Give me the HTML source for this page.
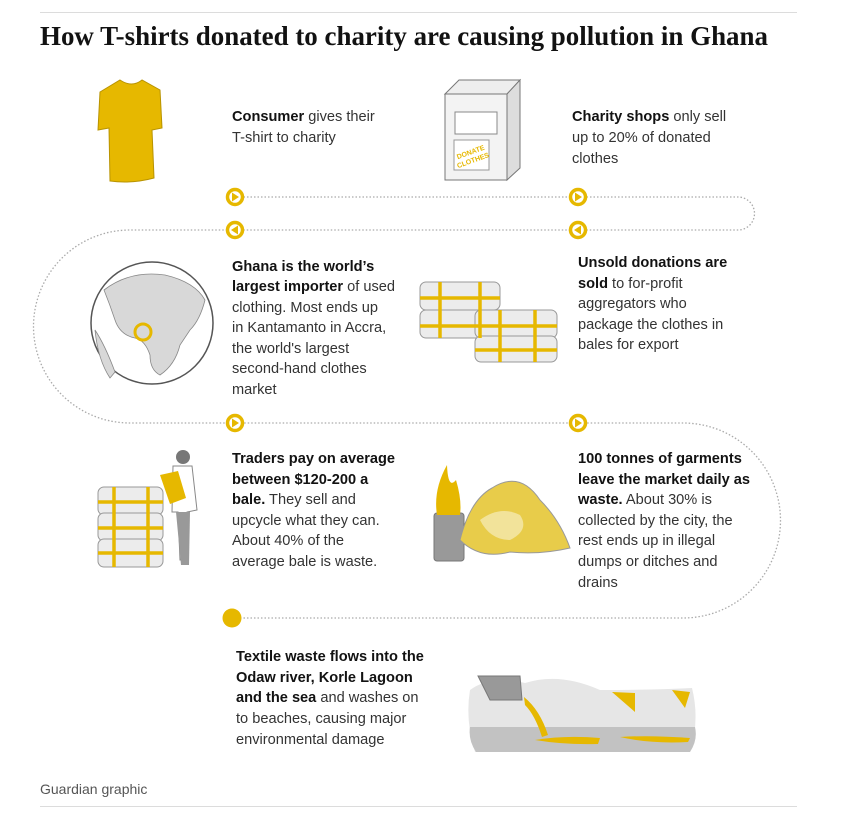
<!DOCTYPE html>
<html><head><meta charset="utf-8"><style>
html,body{margin:0;padding:0;background:#fff}
svg{display:block}
.t{font-family:"Liberation Sans",sans-serif;font-size:14.6px;fill:#333}
.b{font-weight:bold;fill:#121212}
</style></head><body>
<svg width="850" height="824" viewBox="0 0 850 824" xmlns="http://www.w3.org/2000/svg">
<line x1="40" y1="12.5" x2="797" y2="12.5" stroke="#dcdcdc" stroke-width="1"/>
<line x1="40" y1="806.5" x2="797" y2="806.5" stroke="#dcdcdc" stroke-width="1"/>
<text x="40" y="45" font-family="Liberation Serif,serif" font-weight="bold" font-size="27" fill="#121212" textLength="728" lengthAdjust="spacingAndGlyphs">How T-shirts donated to charity are causing pollution in Ghana</text>

<path d="M240 197 H738 A16.5 16.5 0 0 1 738 230 H130 A96.5 96.5 0 0 0 130 423 H683 A97.5 97.5 0 0 1 683 618 H235" fill="none" stroke="#aaa" stroke-width="1.3" stroke-dasharray="1.5 2"/>

<g fill="#fff" stroke="#e6b800" stroke-width="3.5">
<circle cx="235" cy="197" r="7.5"/><circle cx="578" cy="197" r="7.5"/>
<circle cx="235" cy="230" r="7.5"/><circle cx="578" cy="230" r="7.5"/>
<circle cx="235" cy="423" r="7.5"/><circle cx="578" cy="423" r="7.5"/>
</g>
<g fill="#e6b800">
<path d="M232 192.5 L239 197 L232 201.5Z"/><path d="M575 192.5 L582 197 L575 201.5Z"/>
<path d="M238 225.5 L231 230 L238 234.5Z"/><path d="M581 225.5 L574 230 L581 234.5Z"/>
<path d="M232 418.5 L239 423 L232 427.5Z"/><path d="M575 418.5 L582 423 L575 427.5Z"/>
<circle cx="232" cy="618" r="9.5"/>
</g>

<path d="M100 92 L120 80 Q132 88 142 80 L160 90 L162 128 L152 130 L154 178 Q132 184 110 181 L109 128 L98 130 Z" fill="#e6b800" stroke="#b89300" stroke-width="1"/>
<path d="M445 94 L459 80 L520 80 L507 94Z" fill="#eee" stroke="#777"/>
<path d="M507 94 L520 80 L520 168 L507 180Z" fill="#ddd" stroke="#777"/>
<rect x="445" y="94" width="62" height="86" fill="#f3f3f3" stroke="#777"/>
<rect x="455" y="112" width="42" height="22" fill="#fff" stroke="#888"/>
<rect x="454" y="140" width="35" height="30" fill="#fff" stroke="#999"/>
<text x="458" y="155" font-family="Liberation Sans" font-size="7" font-weight="bold" fill="#e6b800" transform="rotate(-20 470 158)">DONATE</text>
<text x="458" y="164" font-family="Liberation Sans" font-size="7" font-weight="bold" fill="#e6b800" transform="rotate(-20 470 166)">CLOTHES</text>

<circle cx="152" cy="323" r="61" fill="#fff" stroke="#555" stroke-width="1.5"/>
<path d="M104 290 Q130 270 165 275 Q195 282 205 300 Q200 320 190 330 L180 345 Q175 365 160 375 Q150 370 150 355 Q145 340 135 338 Q120 335 115 320 Q110 305 104 290Z" fill="#d8d8d8" stroke="#888" stroke-width="0.8"/>
<path d="M95 330 Q105 345 115 372 L110 378 Q98 360 95 330Z" fill="#d8d8d8" stroke="#888" stroke-width="0.8"/>
<circle cx="143" cy="332" r="8" fill="none" stroke="#e6b800" stroke-width="3"/>

<g stroke="#999" stroke-width="1" fill="#ececec">
<rect x="420" y="282" width="80" height="28" rx="6"/>
<rect x="420" y="310" width="80" height="28" rx="6"/>
<rect x="475" y="310" width="82" height="28" rx="6"/>
<rect x="475" y="336" width="82" height="26" rx="6"/>
</g>
<g stroke="#e6b800" stroke-width="3.5" fill="none">
<path d="M420 298 H500 M420 326 H500 M475 326 H557 M475 350 H557 M440 282 V338 M480 282 V338 M500 310 V362 M535 310 V362"/>
</g>

<g stroke="#999" stroke-width="1" fill="#ececec">
<rect x="98" y="487" width="65" height="28" rx="6"/>
<rect x="98" y="513" width="65" height="28" rx="6"/>
<rect x="98" y="539" width="65" height="28" rx="6"/>
</g>
<g stroke="#e6b800" stroke-width="3.5" fill="none"><path d="M98 502 H163 M98 528 H163 M98 553 H163 M114 487 V567 M148 487 V567"/></g>
<circle cx="183" cy="457" r="7" fill="#777"/>
<path d="M173 466 L192 466 L197 510 L187 512 L188 560 L180 560 L178 512 L172 512Z" fill="#fff" stroke="#888"/>
<path d="M176 512 H190 L189 565 H181Z" fill="#999"/>
<path d="M160 475 L178 471 L186 498 L170 504Z" fill="#e6b800"/>

<rect x="434" y="513" width="30" height="48" rx="3" fill="#999" stroke="#777"/>
<path d="M437 515 Q433 490 447 465 Q448 490 456 480 Q462 500 460 515Z" fill="#e6b800"/>
<path d="M460 540 Q470 500 492 488 Q520 470 540 500 Q560 520 570 548 Q540 555 510 552 Q480 560 460 540Z" fill="#e8cc4a" stroke="#999"/>
<path d="M480 520 Q500 505 520 515 Q530 530 510 540 Q490 540 480 520Z" fill="#f2e39a"/>

<path d="M470 690 Q490 675 525 683 Q560 672 600 690 Q650 690 692 688 Q700 720 690 752 L475 752 Q465 720 470 690Z" fill="#e6e6e6"/>
<path d="M470 727 H695 Q698 740 690 752 H476 Q468 740 470 727Z" fill="#c2c2c2"/>
<path d="M478 676 L520 676 L522 700 L490 700Z" fill="#999" stroke="#777"/>
<path d="M524 697 Q540 710 548 735 L542 737 Q535 715 525 705Z" fill="#e6b800"/>
<path d="M535 740 Q565 735 600 738 L598 744 Q565 745 535 740Z" fill="#e6b800"/>
<path d="M620 737 Q650 735 690 738 L688 742 Q650 744 620 737Z" fill="#e6b800"/>
<path d="M612 692 L635 693 L635 712Z M672 690 L690 692 L685 708Z" fill="#e6b800"/>

<text class="t" x="232" y="121"><tspan class="b">Consumer</tspan> gives their</text>
<text class="t" x="232" y="142">T-shirt to charity</text>

<text class="t" x="572" y="121"><tspan class="b">Charity shops</tspan> only sell</text>
<text class="t" x="572" y="142">up to 20% of donated</text>
<text class="t" x="572" y="163">clothes</text>

<text class="t" x="232" y="271"><tspan class="b">Ghana is the world’s</tspan></text>
<text class="t" x="232" y="291"><tspan class="b">largest importer</tspan> of used</text>
<text class="t" x="232" y="312">clothing. Most ends up</text>
<text class="t" x="232" y="332">in Kantamanto in Accra,</text>
<text class="t" x="232" y="353">the world's largest</text>
<text class="t" x="232" y="373">second-hand clothes</text>
<text class="t" x="232" y="394">market</text>

<text class="t" x="578" y="267"><tspan class="b">Unsold donations are</tspan></text>
<text class="t" x="578" y="288"><tspan class="b">sold</tspan> to for-profit</text>
<text class="t" x="578" y="308">aggregators who</text>
<text class="t" x="578" y="329">package the clothes in</text>
<text class="t" x="578" y="349">bales for export</text>

<text class="t" x="232" y="463"><tspan class="b">Traders pay on average</tspan></text>
<text class="t" x="232" y="484"><tspan class="b">between $120-200 a</tspan></text>
<text class="t" x="232" y="504"><tspan class="b">bale.</tspan> They sell and</text>
<text class="t" x="232" y="525">upcycle what they can.</text>
<text class="t" x="232" y="545">About 40% of the</text>
<text class="t" x="232" y="566">average bale is waste.</text>

<text class="t" x="578" y="463"><tspan class="b">100 tonnes of garments</tspan></text>
<text class="t" x="578" y="484"><tspan class="b">leave the market daily as</tspan></text>
<text class="t" x="578" y="504"><tspan class="b">waste.</tspan> About 30% is</text>
<text class="t" x="578" y="525">collected by the city, the</text>
<text class="t" x="578" y="545">rest ends up in illegal</text>
<text class="t" x="578" y="566">dumps or ditches and</text>
<text class="t" x="578" y="587">drains</text>

<text class="t" x="236" y="661"><tspan class="b">Textile waste flows into the</tspan></text>
<text class="t" x="236" y="682"><tspan class="b">Odaw river, Korle Lagoon</tspan></text>
<text class="t" x="236" y="702"><tspan class="b">and the sea</tspan> and washes on</text>
<text class="t" x="236" y="723">to beaches, causing major</text>
<text class="t" x="236" y="744">environmental damage</text>

<text class="t" x="40" y="794" style="font-size:14px;fill:#555">Guardian graphic</text>
</svg>
</body></html>
